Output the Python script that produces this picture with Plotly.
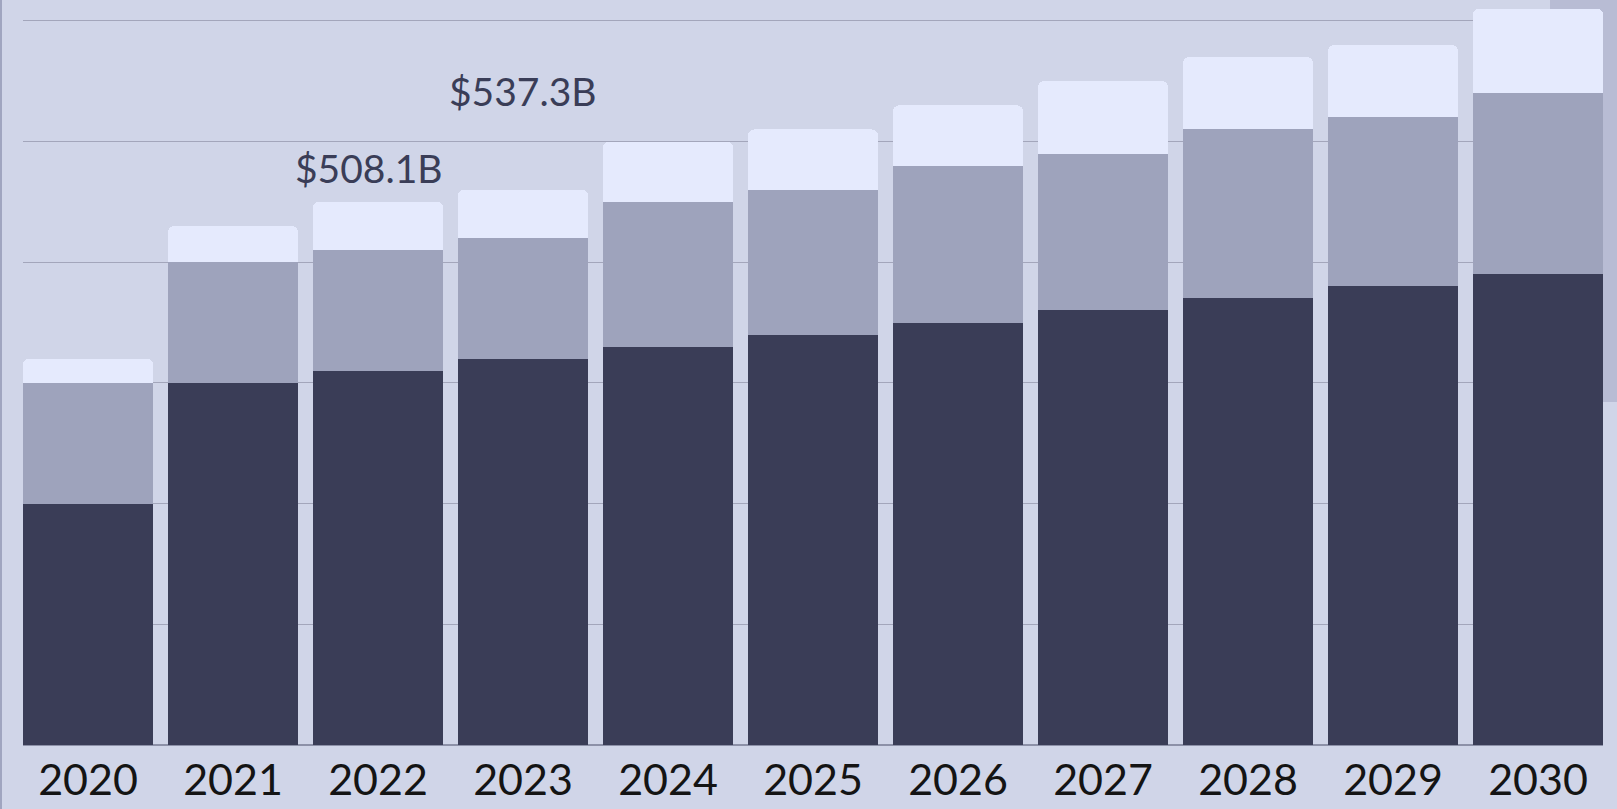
import plotly.graph_objects as go

years = ["2020", "2021", "2022", "2023", "2024", "2025", "2026", "2027", "2028", "2029", "2030"]
base_values = [200, 300, 310, 320, 330, 340, 350, 360, 370, 380, 390]
middle_values = [100, 100, 100, 100, 120, 120, 130, 130, 140, 140, 150]
top_values = [20, 30, 40, 40, 50, 50, 50, 60, 60, 60, 70]

label_years = ["2022", "2023"]
label_texts = ["$508.1B", "$537.3B"]
label_y = [478, 542]

BG = "#d0d5e8"
DARK = "#3a3d57"
MID = "#9ea3bc"
LIGHT = "#e5eafd"

W, H = 1617, 809
ML, MR, MT, MB = 23, 14, 0, 64
BARW = 130 / 145

xs = list(range(len(years)))

fig = go.Figure()
for vals, col in [(base_values, DARK), (middle_values, MID), (top_values, LIGHT)]:
    fig.add_trace(go.Bar(x=xs, y=vals, marker=dict(color=col, line=dict(width=0)),
                         width=BARW, hoverinfo="skip", showlegend=False))

for yr, txt, yv in zip(label_years, label_texts, label_y):
    fig.add_annotation(x=years.index(yr), y=yv, xref="x", yref="y", text=txt,
                       showarrow=False, xshift=-9 if yr == "2022" else 0,
                       font=dict(family="Lato, Noto Sans, sans-serif", size=39, color=DARK))

# decorative strips
fig.add_shape(type="rect", xref="paper", yref="paper", x0=-ML / 1580, x1=(2 - ML) / 1580,
              y0=-0.2, y1=1.1, fillcolor="#a0a5c0", line=dict(width=0), layer="below")
fig.add_shape(type="rect", xref="paper", yref="paper", x0=(1550 - ML) / 1580, x1=1.05,
              y0=(745 - 402) / 745, y1=1.1, fillcolor="#b8bcd4", line=dict(width=0), layer="below")

fig.update_layout(
    width=W, height=H,
    margin=dict(l=ML, r=MR, t=MT, b=MB),
    paper_bgcolor=BG, plot_bgcolor="rgba(0,0,0,0)",
    barmode="stack", barcornerradius=6,
    showlegend=False,
    xaxis=dict(range=[-BARW / 2, len(years) - 1 + BARW / 2], tickvals=xs, ticktext=years,
               showgrid=False, zeroline=False, showline=False, ticks="",
               ticklabelstandoff=6,
               tickfont=dict(family="Lato, Noto Sans, sans-serif", size=43, color="#141414"),
               automargin=False, fixedrange=True),
    yaxis=dict(range=[0, 745 / 1.207], dtick=100, showgrid=True, gridcolor="#a3a6bb",
               gridwidth=1.3, zeroline=True, zerolinecolor="#8d91a8", zerolinewidth=1.5,
               showticklabels=False, showline=False, ticks="", automargin=False, fixedrange=True),
)

fig.write_html("out.html", config={"displayModeBar": False},
               post_script="document.body.style.margin='0';document.body.style.background='" + BG + "';")
